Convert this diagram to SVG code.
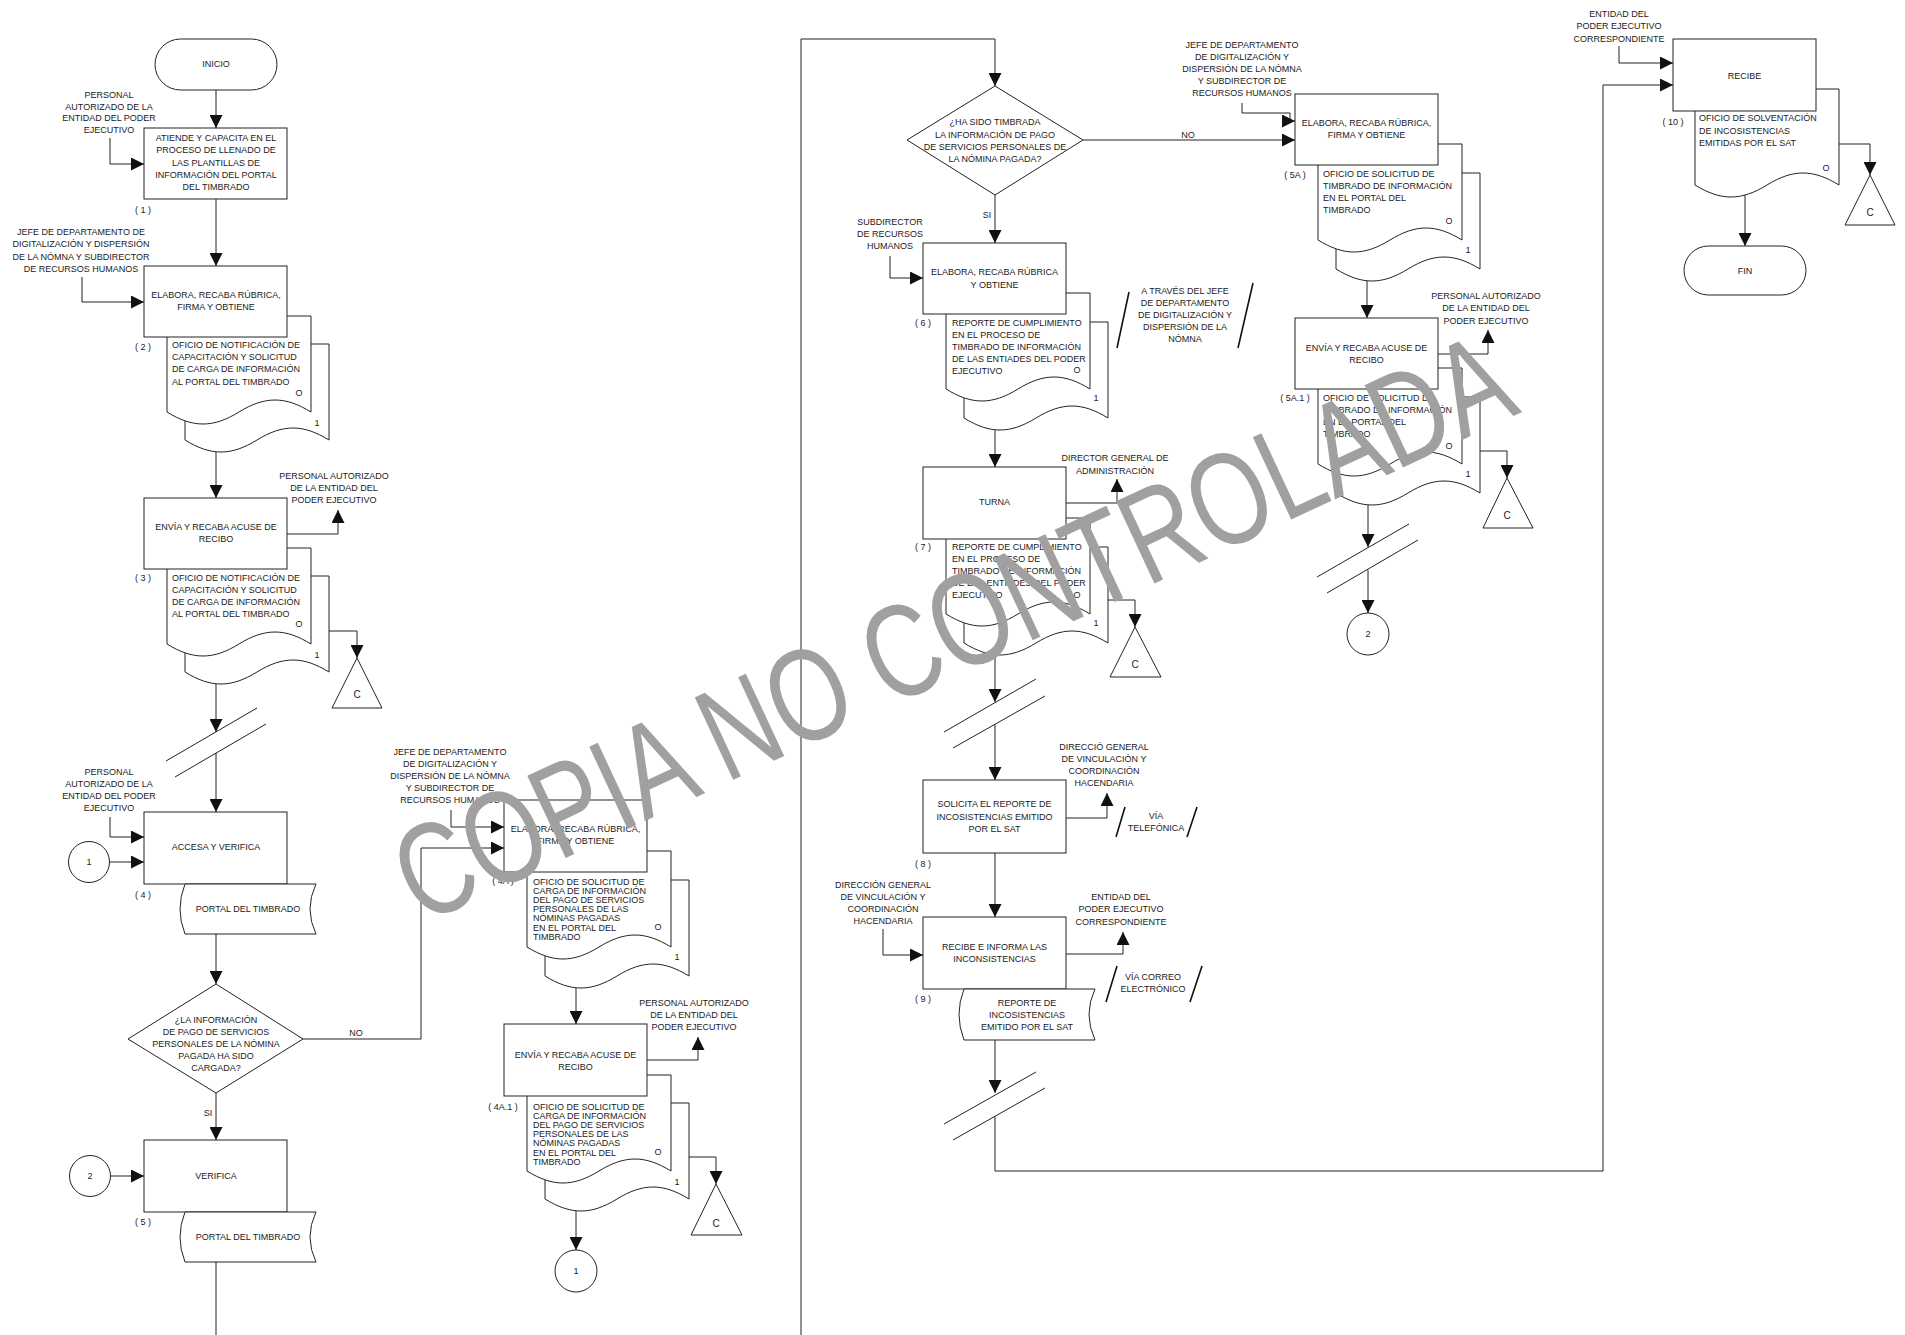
<svg xmlns="http://www.w3.org/2000/svg" width="1905" height="1335" viewBox="0 0 1905 1335">
<style>
text{font-family:"Liberation Sans",Arial,sans-serif;font-size:9px;fill:#222}
.m{text-anchor:middle}
.ln{fill:none;stroke:#222;stroke-width:1}
.ar{marker-end:url(#a)}
.sh{fill:#fff;stroke:#222;stroke-width:1}
.sl{stroke:#111;stroke-width:1.6}
.tc{font-size:10px}
.wm{font-size:132px;fill:#a0a0a0;text-anchor:middle}
</style>
<defs>
<marker id="a" viewBox="0 0 13 13" markerWidth="13" markerHeight="13" refX="13" refY="6.5" orient="auto" markerUnits="userSpaceOnUse"><path d="M0,0 L13,6.5 L0,13 Z" fill="#111"/></marker>
</defs>
<rect width="1905" height="1335" fill="#fff"/>
<g id="connectors">
<path class="ln ar" d="M216,90 V128"/>
<path class="ln ar" d="M110,138 V164 H144"/>
<path class="ln ar" d="M216,199 V266"/>
<path class="ln ar" d="M82,277 V302 H144"/>
<path class="ln ar" d="M216,445 V498"/>
<path class="ln ar" d="M287,534 H338 V510"/>
<path class="ln ar" d="M329,631 H357 V658"/>
<path class="ln ar" d="M216,675 V732"/>
<path class="ln" d="M166,761 L257,708 M175,777 L266,724"/>
<path class="ln ar" d="M216,753 V812"/>
<path class="ln ar" d="M110,817 V837 H144"/>
<path class="ln ar" d="M109,862 H144"/>
<path class="ln ar" d="M216,934 V984"/>
<path class="ln ar" d="M303,1039 H421 V848 H504"/>
<path class="ln ar" d="M216,1093 V1140"/>
<path class="ln ar" d="M111,1176 H144"/>
<path class="ln" d="M216,1262 V1335"/>
<path class="ln ar" d="M801,1335 V39 H995 V86"/>
<path class="ln ar" d="M451,810 V827 H504"/>
<path class="ln ar" d="M576,980 V1024"/>
<path class="ln ar" d="M647,1060 H698 V1037"/>
<path class="ln ar" d="M689,1157 H716 V1184"/>
<path class="ln ar" d="M576,1203 V1250"/>
<path class="ln ar" d="M1083,140 H1295"/>
<path class="ln ar" d="M995,195 V243"/>
<path class="ln ar" d="M890,256 V278 H923"/>
<path class="ln ar" d="M995,422 V467"/>
<path class="ln ar" d="M1066,503 H1117 V479"/>
<path class="ln ar" d="M1108,600 H1135 V627"/>
<path class="ln ar" d="M995,647 V702"/>
<path class="ln" d="M944,732 L1036,679 M953,748 L1045,696"/>
<path class="ln ar" d="M995,725 V780"/>
<path class="ln ar" d="M1066,818 H1107 V793"/>
<path class="ln ar" d="M995,853 V917"/>
<path class="ln ar" d="M883,929 V955 H923"/>
<path class="ln ar" d="M1066,954 H1123 V932"/>
<path class="ln ar" d="M995,1040 V1093"/>
<path class="ln" d="M944,1124 L1036,1072 M953,1140 L1045,1088"/>
<path class="ln ar" d="M995,1117 V1171 H1603 V85 H1673"/>
<path class="ln ar" d="M1242,103 V113 H1290 V121 H1295"/>
<path class="ln ar" d="M1367,273 V318"/>
<path class="ln ar" d="M1438,354 H1488 V330"/>
<path class="ln ar" d="M1480,451 H1507 V478"/>
<path class="ln ar" d="M1368,497 V547"/>
<path class="ln" d="M1317,577 L1409,524 M1327,593 L1418,540"/>
<path class="ln ar" d="M1368,570 V613"/>
<path class="ln ar" d="M1619,46 V63 H1673"/>
<path class="ln ar" d="M1839,144 H1870 V175"/>
<path class="ln ar" d="M1745,190 V246"/>
</g>

<g id="inicio"><rect class="sh" x="155" y="39" width="122" height="51" rx="25.5"/><text class="m" x="216" y="67">INICIO</text></g>

<g id="n1"><rect class="sh" x="144" y="128" width="143" height="71"/>
<text class="m" x="216"><tspan x="216" y="141">ATIENDE Y CAPACITA EN EL</tspan><tspan x="216" y="153">PROCESO DE LLENADO DE</tspan><tspan x="216" y="166">LAS PLANTILLAS DE</tspan><tspan x="216" y="178">INFORMACIÓN DEL PORTAL</tspan><tspan x="216" y="190">DEL TIMBRADO</tspan></text>
<text class="m"><tspan x="109" y="98">PERSONAL</tspan><tspan x="109" y="110">AUTORIZADO DE LA</tspan><tspan x="109" y="121">ENTIDAD DEL PODER</tspan><tspan x="109" y="133">EJECUTIVO</tspan></text>
<text class="m" x="143" y="213">( 1 )</text></g>

<g id="n2">
<path class="sh" d="M185,344 H329 V440 C303,424 283,424 257,440 C231,456 211,456 185,440 Z"/>
<path class="sh" d="M167,316 H311 V412 C285,396 265,396 239,412 C213,428 193,428 167,412 Z"/>
<rect class="sh" x="144" y="266" width="143" height="71"/>
<text class="m"><tspan x="216" y="298">ELABORA, RECABA RÚBRICA,</tspan><tspan x="216" y="310">FIRMA Y OBTIENE</tspan></text>
<text class="m"><tspan x="81" y="235">JEFE DE DEPARTAMENTO DE</tspan><tspan x="81" y="247">DIGITALIZACIÓN Y DISPERSIÓN</tspan><tspan x="81" y="260">DE LA NÓMNA Y SUBDIRECTOR</tspan><tspan x="81" y="272">DE RECURSOS HUMANOS</tspan></text>
<text class="m" x="143" y="350">( 2 )</text>
<text><tspan x="172" y="348">OFICIO DE NOTIFICACIÓN DE</tspan><tspan x="172" y="360">CAPACITACIÓN Y SOLICITUD</tspan><tspan x="172" y="372">DE CARGA DE INFORMACIÓN</tspan><tspan x="172" y="385">AL PORTAL DEL TIMBRADO</tspan></text>
<text class="m" x="299" y="396">O</text><text class="m" x="317" y="426">1</text></g>

<g id="n3">
<path class="sh" d="M185,576 H329 V672 C303,656 283,656 257,672 C231,688 211,688 185,672 Z"/>
<path class="sh" d="M167,548 H311 V644 C285,628 265,628 239,644 C213,660 193,660 167,644 Z"/>
<rect class="sh" x="144" y="498" width="143" height="71"/>
<text class="m"><tspan x="216" y="530">ENVÍA Y RECABA ACUSE DE</tspan><tspan x="216" y="542">RECIBO</tspan></text>
<text class="m"><tspan x="334" y="479">PERSONAL AUTORIZADO</tspan><tspan x="334" y="491">DE LA ENTIDAD DEL</tspan><tspan x="334" y="503">PODER EJECUTIVO</tspan></text>
<text class="m" x="143" y="581">( 3 )</text>
<text><tspan x="172" y="581">OFICIO DE NOTIFICACIÓN DE</tspan><tspan x="172" y="593">CAPACITACIÓN Y SOLICITUD</tspan><tspan x="172" y="605">DE CARGA DE INFORMACIÓN</tspan><tspan x="172" y="617">AL PORTAL DEL TIMBRADO</tspan></text>
<text class="m" x="299" y="627">O</text><text class="m" x="317" y="658">1</text></g>
<g id="c1"><path class="sh" d="M357,658 L382,708 L332,708 Z"/><text class="m tc" x="357" y="698">C</text></g>

<g id="n4"><rect class="sh" x="144" y="812" width="143" height="72"/>
<text class="m" x="216" y="850">ACCESA Y VERIFICA</text>
<text class="m"><tspan x="109" y="775">PERSONAL</tspan><tspan x="109" y="787">AUTORIZADO DE LA</tspan><tspan x="109" y="799">ENTIDAD DEL PODER</tspan><tspan x="109" y="811">EJECUTIVO</tspan></text>
<text class="m" x="143" y="898">( 4 )</text>
<path class="sh" d="M185,884 H316 Q304,909 316,934 H185 Q175,909 185,884 Z"/>
<text class="m" x="248" y="912">PORTAL DEL TIMBRADO</text></g>
<g id="k1a"><circle class="sh" cx="89" cy="862" r="20.5"/><text class="m" x="89" y="865">1</text></g>

<g id="d1"><path class="sh" d="M216,984 L303,1039 L216,1093 L128,1039 Z"/>
<text class="m"><tspan x="216" y="1023">¿LA INFORMACIÓN</tspan><tspan x="216" y="1035">DE PAGO DE SERVICIOS</tspan><tspan x="216" y="1047">PERSONALES DE LA NÓMINA</tspan><tspan x="216" y="1059">PAGADA HA SIDO</tspan><tspan x="216" y="1071">CARGADA?</tspan></text>
<text class="m" x="356" y="1036">NO</text><text class="m" x="208" y="1116">SI</text></g>

<g id="n5"><rect class="sh" x="144" y="1140" width="143" height="72"/>
<text class="m" x="216" y="1179">VERIFICA</text>
<text class="m" x="143" y="1225">( 5 )</text>
<path class="sh" d="M185,1212 H316 Q304,1237 316,1262 H185 Q175,1237 185,1212 Z"/>
<text class="m" x="248" y="1240">PORTAL DEL TIMBRADO</text></g>
<g id="k2a"><circle class="sh" cx="90" cy="1176" r="20.5"/><text class="m" x="90" y="1179">2</text></g>

<g id="n4a">
<path class="sh" d="M545,880 H689 V976 C663,960 643,960 617,976 C591,992 571,992 545,976 Z"/>
<path class="sh" d="M527,851 H671 V947 C645,931 625,931 599,947 C573,963 553,963 527,947 Z"/>
<rect class="sh" x="504" y="800" width="143" height="72"/>
<text class="m"><tspan x="575.5" y="832">ELABORA, RECABA RÚBRICA,</tspan><tspan x="575.5" y="844">FIRMA Y OBTIENE</tspan></text>
<text class="m"><tspan x="450" y="755">JEFE DE DEPARTAMENTO</tspan><tspan x="450" y="767">DE DIGITALIZACIÓN Y</tspan><tspan x="450" y="779">DISPERSIÓN DE LA NÓMNA</tspan><tspan x="450" y="791">Y SUBDIRECTOR DE</tspan><tspan x="450" y="803">RECURSOS HUMANOS</tspan></text>
<text class="m" x="503" y="884">( 4A )</text>
<text><tspan x="533" y="885">OFICIO DE SOLICITUD DE</tspan><tspan x="533" y="894">CARGA DE INFORMACIÓN</tspan><tspan x="533" y="903">DEL PAGO DE SERVICIOS</tspan><tspan x="533" y="912">PERSONALES DE LAS</tspan><tspan x="533" y="921">NÓMINAS PAGADAS</tspan><tspan x="533" y="931">EN EL PORTAL DEL</tspan><tspan x="533" y="940">TIMBRADO</tspan></text>
<text class="m" x="658" y="930">O</text><text class="m" x="677" y="960">1</text></g>

<g id="n4a1">
<path class="sh" d="M545,1103 H689 V1199 C663,1183 643,1183 617,1199 C591,1215 571,1215 545,1199 Z"/>
<path class="sh" d="M527,1075 H671 V1171 C645,1155 625,1155 599,1171 C573,1187 553,1187 527,1171 Z"/>
<rect class="sh" x="504" y="1024" width="143" height="72"/>
<text class="m"><tspan x="575.5" y="1058">ENVÍA Y RECABA ACUSE DE</tspan><tspan x="575.5" y="1070">RECIBO</tspan></text>
<text class="m"><tspan x="694" y="1006">PERSONAL AUTORIZADO</tspan><tspan x="694" y="1018">DE LA ENTIDAD DEL</tspan><tspan x="694" y="1030">PODER EJECUTIVO</tspan></text>
<text class="m" x="503" y="1110">( 4A.1 )</text>
<text><tspan x="533" y="1110">OFICIO DE SOLICITUD DE</tspan><tspan x="533" y="1119">CARGA DE INFORMACIÓN</tspan><tspan x="533" y="1128">DEL PAGO DE SERVICIOS</tspan><tspan x="533" y="1137">PERSONALES DE LAS</tspan><tspan x="533" y="1146">NÓMINAS PAGADAS</tspan><tspan x="533" y="1156">EN EL PORTAL DEL</tspan><tspan x="533" y="1165">TIMBRADO</tspan></text>
<text class="m" x="658" y="1155">O</text><text class="m" x="677" y="1185">1</text></g>
<g id="c2"><path class="sh" d="M716,1184 L742,1235 L691,1235 Z"/><text class="m tc" x="716" y="1227">C</text></g>
<g id="k1b"><circle class="sh" cx="576" cy="1271" r="21"/><text class="m" x="576" y="1274">1</text></g>

<g id="d2"><path class="sh" d="M995,86 L1083,140 L995,195 L907,140 Z"/>
<text class="m"><tspan x="995" y="125">¿HA SIDO TIMBRADA</tspan><tspan x="995" y="138">LA INFORMACIÓN DE PAGO</tspan><tspan x="995" y="150">DE SERVICIOS PERSONALES DE</tspan><tspan x="995" y="162">LA NÓMINA PAGADA?</tspan></text>
<text class="m" x="1188" y="138">NO</text><text class="m" x="987" y="218">SI</text></g>

<g id="n6">
<path class="sh" d="M964,322 H1108 V418 C1082,402 1062,402 1036,418 C1010,434 990,434 964,418 Z"/>
<path class="sh" d="M946,293 H1090 V389 C1064,373 1044,373 1018,389 C992,405 972,405 946,389 Z"/>
<rect class="sh" x="923" y="243" width="143" height="71"/>
<text class="m"><tspan x="994.5" y="275">ELABORA, RECABA RÚBRICA</tspan><tspan x="994.5" y="288">Y OBTIENE</tspan></text>
<text class="m"><tspan x="890" y="225">SUBDIRECTOR</tspan><tspan x="890" y="237">DE RECURSOS</tspan><tspan x="890" y="249">HUMANOS</tspan></text>
<text class="m" x="923" y="326">( 6 )</text>
<text><tspan x="952" y="326">REPORTE DE CUMPLIMIENTO</tspan><tspan x="952" y="338">EN EL PROCESO DE</tspan><tspan x="952" y="350">TIMBRADO DE INFORMACIÓN</tspan><tspan x="952" y="362">DE LAS ENTIADES DEL PODER</tspan><tspan x="952" y="374">EJECUTIVO</tspan></text>
<text class="m" x="1077" y="373">O</text><text class="m" x="1096" y="401">1</text>
<path class="sl" d="M1117,348 L1129,292 M1238,348 L1253,283"/>
<text class="m"><tspan x="1185" y="294">A TRAVÉS DEL JEFE</tspan><tspan x="1185" y="306">DE DEPARTAMENTO</tspan><tspan x="1185" y="318">DE DIGITALIZACIÓN Y</tspan><tspan x="1185" y="330">DISPERSIÓN DE LA</tspan><tspan x="1185" y="342">NÓMNA</tspan></text></g>

<g id="n7">
<path class="sh" d="M964,547 H1108 V643 C1082,627 1062,627 1036,643 C1010,659 990,659 964,643 Z"/>
<path class="sh" d="M946,518 H1090 V614 C1064,598 1044,598 1018,614 C992,630 972,630 946,614 Z"/>
<rect class="sh" x="923" y="467" width="143" height="72"/>
<text class="m" x="994.5" y="505">TURNA</text>
<text class="m"><tspan x="1115" y="461">DIRECTOR GENERAL DE</tspan><tspan x="1115" y="474">ADMINISTRACIÓN</tspan></text>
<text class="m" x="923" y="550">( 7 )</text>
<text><tspan x="952" y="550">REPORTE DE CUMPLIMIENTO</tspan><tspan x="952" y="562">EN EL PROCESO DE</tspan><tspan x="952" y="574">TIMBRADO DE INFORMACIÓN</tspan><tspan x="952" y="586">DE LAS ENTIADES DEL PODER</tspan><tspan x="952" y="598">EJECUTIVO</tspan></text>
<text class="m" x="1077" y="598">O</text><text class="m" x="1096" y="626">1</text></g>
<g id="c3"><path class="sh" d="M1135,627 L1161,677 L1110,677 Z"/><text class="m tc" x="1135" y="668">C</text></g>

<g id="n8"><rect class="sh" x="923" y="780" width="143" height="73"/>
<text class="m"><tspan x="994.5" y="807">SOLICITA EL REPORTE DE</tspan><tspan x="994.5" y="820">INCOSISTENCIAS EMITIDO</tspan><tspan x="994.5" y="832">POR EL SAT</tspan></text>
<text class="m"><tspan x="1104" y="750">DIRECCIÓ GENERAL</tspan><tspan x="1104" y="762">DE VINCULACIÓN Y</tspan><tspan x="1104" y="774">COORDINACIÓN</tspan><tspan x="1104" y="786">HACENDARIA</tspan></text>
<path class="sl" d="M1116,837 L1125,807 M1187,837 L1197,807"/>
<text class="m"><tspan x="1156" y="819">VÍA</tspan><tspan x="1156" y="831">TELEFÓNICA</tspan></text>
<text class="m" x="923" y="867">( 8 )</text></g>

<g id="n9"><rect class="sh" x="923" y="917" width="143" height="72"/>
<text class="m"><tspan x="994.5" y="950">RECIBE E INFORMA LAS</tspan><tspan x="994.5" y="962">INCONSISTENCIAS</tspan></text>
<text class="m"><tspan x="883" y="888">DIRECCIÓN GENERAL</tspan><tspan x="883" y="900">DE VINCULACIÓN Y</tspan><tspan x="883" y="912">COORDINACIÓN</tspan><tspan x="883" y="924">HACENDARIA</tspan></text>
<text class="m"><tspan x="1121" y="900">ENTIDAD DEL</tspan><tspan x="1121" y="912">PODER EJECUTIVO</tspan><tspan x="1121" y="925">CORRESPONDIENTE</tspan></text>
<path class="sl" d="M1106,1002 L1117,966 M1190,1002 L1202,966"/>
<text class="m"><tspan x="1153" y="980">VÍA CORREO</tspan><tspan x="1153" y="992">ELECTRÓNICO</tspan></text>
<text class="m" x="923" y="1002">( 9 )</text>
<path class="sh" d="M964,989 H1095 Q1083,1014.5 1095,1040 H964 Q954,1014.5 964,989 Z"/>
<text class="m"><tspan x="1027" y="1006">REPORTE DE</tspan><tspan x="1027" y="1018">INCOSISTENCIAS</tspan><tspan x="1027" y="1030">EMITIDO POR EL SAT</tspan></text></g>

<g id="n5a">
<path class="sh" d="M1336,173 H1480 V269 C1454,253 1434,253 1408,269 C1382,285 1362,285 1336,269 Z"/>
<path class="sh" d="M1318,144 H1462 V240 C1436,224 1416,224 1390,240 C1364,256 1344,256 1318,240 Z"/>
<rect class="sh" x="1295" y="94" width="143" height="71"/>
<text class="m"><tspan x="1366.5" y="126">ELABORA, RECABA RÚBRICA,</tspan><tspan x="1366.5" y="138">FIRMA Y OBTIENE</tspan></text>
<text class="m"><tspan x="1242" y="48">JEFE DE DEPARTAMENTO</tspan><tspan x="1242" y="60">DE DIGITALIZACIÓN Y</tspan><tspan x="1242" y="72">DISPERSIÓN DE LA NÓMNA</tspan><tspan x="1242" y="84">Y SUBDIRECTOR DE</tspan><tspan x="1242" y="96">RECURSOS HUMANOS</tspan></text>
<text class="m" x="1295" y="178">( 5A )</text>
<text><tspan x="1323" y="177">OFICIO DE SOLICITUD DE</tspan><tspan x="1323" y="189">TIMBRADO DE INFORMACIÓN</tspan><tspan x="1323" y="201">EN EL PORTAL DEL</tspan><tspan x="1323" y="213">TIMBRADO</tspan></text>
<text class="m" x="1449" y="224">O</text><text class="m" x="1468" y="253">1</text></g>

<g id="n5a1">
<path class="sh" d="M1336,397 H1480 V493 C1454,477 1434,477 1408,493 C1382,509 1362,509 1336,493 Z"/>
<path class="sh" d="M1318,368 H1462 V464 C1436,448 1416,448 1390,464 C1364,480 1344,480 1318,464 Z"/>
<rect class="sh" x="1295" y="318" width="143" height="71"/>
<text class="m"><tspan x="1366.5" y="351">ENVÍA Y RECABA ACUSE DE</tspan><tspan x="1366.5" y="363">RECIBO</tspan></text>
<text class="m"><tspan x="1486" y="299">PERSONAL AUTORIZADO</tspan><tspan x="1486" y="311">DE LA ENTIDAD DEL</tspan><tspan x="1486" y="324">PODER EJECUTIVO</tspan></text>
<text class="m" x="1295" y="401">( 5A.1 )</text>
<text><tspan x="1323" y="401">OFICIO DE SOLICITUD DE</tspan><tspan x="1323" y="413">TIMBRADO DE INFORMACIÓN</tspan><tspan x="1323" y="425">EN EL PORTAL DEL</tspan><tspan x="1323" y="437">TIMBRADO</tspan></text>
<text class="m" x="1449" y="449">O</text><text class="m" x="1468" y="477">1</text></g>
<g id="c4"><path class="sh" d="M1507,478 L1533,528 L1483,528 Z"/><text class="m tc" x="1507" y="519">C</text></g>
<g id="k2b"><circle class="sh" cx="1368" cy="634" r="21"/><text class="m" x="1368" y="637">2</text></g>

<g id="n10">
<path class="sh" d="M1695,89 H1839 V185 C1813,169 1793,169 1767,185 C1741,201 1721,201 1695,185 Z"/>
<rect class="sh" x="1673" y="39" width="143" height="72"/>
<text class="m" x="1744.5" y="79">RECIBE</text>
<text class="m"><tspan x="1619" y="17">ENTIDAD DEL</tspan><tspan x="1619" y="29">PODER EJECUTIVO</tspan><tspan x="1619" y="42">CORRESPONDIENTE</tspan></text>
<text class="m" x="1673" y="125">( 10 )</text>
<text><tspan x="1699" y="121">OFICIO DE SOLVENTACIÓN</tspan><tspan x="1699" y="134">DE INCOSISTENCIAS</tspan><tspan x="1699" y="146">EMITIDAS POR EL SAT</tspan></text>
<text class="m" x="1826" y="171">O</text></g>
<g id="c5"><path class="sh" d="M1870,175 L1895,225 L1845,225 Z"/><text class="m tc" x="1870" y="216">C</text></g>
<g id="fin"><rect class="sh" x="1684" y="246" width="122" height="49" rx="24.5"/><text class="m" x="1745" y="274">FIN</text></g>

<text class="wm" x="952" y="673" textLength="1215" lengthAdjust="spacingAndGlyphs" transform="rotate(-25 952 626)">COPIA NO CONTROLADA</text>
</svg>
